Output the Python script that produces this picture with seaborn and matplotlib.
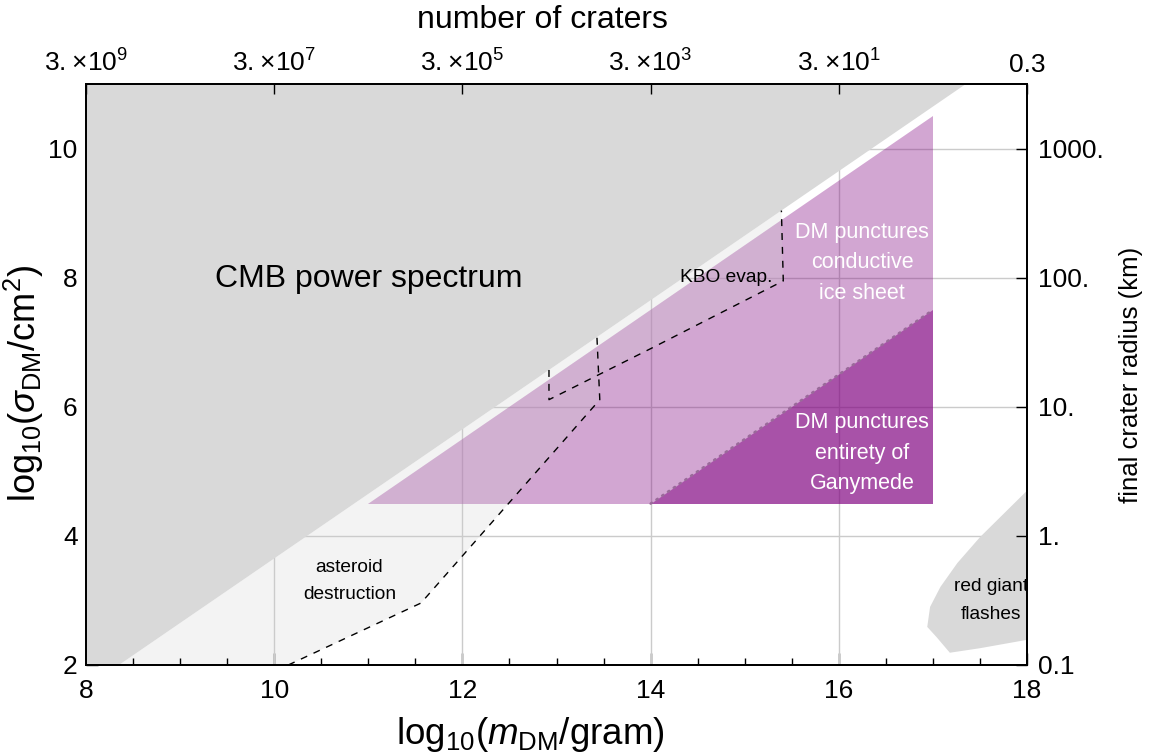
import matplotlib
matplotlib.use("Agg")
import matplotlib.pyplot as plt
import seaborn as sns
from matplotlib.patches import Polygon
from matplotlib.ticker import MultipleLocator

# axis ranges
M_LIM = (8, 18)
SIGMA_LIM = (2, 11)

# CMB power spectrum bound (edge of the excluded upper-left region)
cmb_edge_m = [8.35, 17.35]
cmb_edge_sigma = [2.0, 11.0]

# asteroid destruction bound (dashed)
ast_m = [10.15, 11.56, 13.46, 13.43]
ast_sigma = [2.0, 2.96, 6.11, 7.07]

# KBO evaporation bound (dashed)
kbo_m = [12.92, 12.92, 14.0, 15.41, 15.39]
kbo_sigma = [6.57, 6.11, 6.90, 7.95, 9.04]

# lower edge of the combined asteroid + KBO excluded area
excl_m = [10.15, 11.56, 13.46, 13.46, 14.0, 15.41, 15.39]
excl_sigma = [2.0, 2.96, 6.11, 6.51, 6.90, 7.95, 9.04]

# DM punctures conductive ice sheet
ice_m = [11, 17, 17]
ice_sigma = [4.5, 4.5, 10.5]

# DM punctures entirety of Ganymede
gan_m = [14, 17, 17]
gan_sigma = [4.5, 4.5, 7.5]

# red giant flashes
rg_m = [18.0, 17.50, 17.26, 17.08, 16.97, 16.94, 17.04, 17.18, 17.50, 18.0]
rg_sigma = [4.70, 3.98, 3.58, 3.21, 2.90, 2.59, 2.43, 2.19, 2.26, 2.39]

# secondary axes
crater_ticks = [8, 10, 12, 14, 16, 18]
crater_labels = [r"$3.\!\times\!10^{9}$", r"$3.\!\times\!10^{7}$", r"$3.\!\times\!10^{5}$",
                 r"$3.\!\times\!10^{3}$", r"$3.\!\times\!10^{1}$", "0.3"]
radius_ticks = [2, 4, 6, 8, 10]
radius_labels = ["0.1", "1.", "10.", "100.", "1000."]

grid_m = [10, 12, 14, 16]
grid_sigma = [4, 6, 8, 10]

PURPLE = (0.5, 0.0, 0.5)
DARK_GRAY = "#d9d9d9"
LIGHT_GRAY = "#f3f3f3"


def main():
    sns.set_theme(style="white")
    plt.rcParams["font.family"] = ["Liberation Sans", "DejaVu Sans"]
    plt.rcParams["mathtext.fontset"] = "custom"
    plt.rcParams["mathtext.rm"] = "Liberation Sans"
    plt.rcParams["mathtext.it"] = "Liberation Sans:italic"
    plt.rcParams["mathtext.bf"] = "Liberation Sans:bold"
    plt.rcParams["mathtext.sf"] = "Liberation Sans"
    for key in ("text.color", "axes.labelcolor", "xtick.color", "ytick.color"):
        plt.rcParams[key] = "black"

    fig = plt.figure(figsize=(11.53, 7.53), dpi=100)
    ax = fig.add_axes([86 / 1153, 1 - 665 / 753, 941 / 1153, 581 / 753])
    ax.set_xlim(*M_LIM)
    ax.set_ylim(*SIGMA_LIM)

    # asteroid + KBO excluded area (light gray, below grid)
    excl_pts = list(zip(excl_m, excl_sigma)) + [(cmb_edge_m[0], cmb_edge_sigma[0])]
    ax.add_patch(Polygon(excl_pts, closed=True, facecolor=LIGHT_GRAY,
                         edgecolor="none", zorder=0.3))

    for g in grid_m:
        ax.axvline(g, color="#cbcbcb", lw=1.0, zorder=1)
    for g in grid_sigma:
        ax.axhline(g, color="#cbcbcb", lw=1.0, zorder=1)

    # CMB region
    cmb_pts = [(M_LIM[0], SIGMA_LIM[0]), (cmb_edge_m[0], cmb_edge_sigma[0]),
               (cmb_edge_m[1], cmb_edge_sigma[1]), (M_LIM[0], SIGMA_LIM[1])]
    ax.add_patch(Polygon(cmb_pts, closed=True, facecolor=DARK_GRAY,
                         edgecolor="none", zorder=2))

    # red giant flashes
    ax.fill(rg_m, rg_sigma, color=DARK_GRAY, lw=0, zorder=2)

    # Ganymede constraints
    ice_patch = Polygon(list(zip(ice_m, ice_sigma)), closed=True,
                        facecolor=PURPLE, alpha=0.35, edgecolor="none", zorder=3)
    ax.add_patch(ice_patch)
    ax.add_patch(Polygon(list(zip(gan_m, gan_sigma)), closed=True,
                         facecolor=PURPLE, alpha=0.5, edgecolor="none", zorder=3.1))
    overlay = Polygon(excl_pts, closed=True, facecolor=(0.9, 0.9, 0.9),
                      alpha=0.25, edgecolor="none", zorder=3.2)
    ax.add_patch(overlay)
    overlay.set_clip_path(ice_patch)

    ax.plot(gan_m[0::2], gan_sigma[0::2], color="#9a6a9a", lw=1.8,
            linestyle=(0, (0.6, 2.2)), dash_capstyle="round", zorder=3.5)

    # dashed bounds
    sns.lineplot(x=ast_m, y=ast_sigma, sort=False, estimator=None, ax=ax,
                 color="black", lw=1.0, linestyle=(0, (5, 5)), zorder=4)
    sns.lineplot(x=kbo_m, y=kbo_sigma, sort=False, estimator=None, ax=ax,
                 color="black", lw=1.0, linestyle=(0, (5, 5)), zorder=4)

    # labels inside the plot
    ax.text(11.0, 7.98, "CMB power spectrum", fontsize=23, ha="center",
            va="center", zorder=5)
    ax.text(14.80, 8.0, "KBO evap.", fontsize=13.8, ha="center", va="center", zorder=5)
    ax.text(10.80, 3.30, "asteroid\ndestruction", fontsize=13.8, ha="center",
            va="center", linespacing=1.75, zorder=5)
    ax.text(16.25, 8.23, "DM punctures\nconductive\nice sheet", fontsize=15.5,
            color="white", ha="center", va="center", linespacing=1.58, zorder=5)
    ax.text(16.25, 5.28, "DM punctures\nentirety of\nGanymede", fontsize=15.5,
            color="white", ha="center", va="center", linespacing=1.58, zorder=5)
    ax.text(17.62, 3.0, "red giant\nflashes", fontsize=13.8, ha="center",
            va="center", linespacing=1.8, zorder=5, clip_on=True)

    # bottom / left axes
    ax.set_xticks(crater_ticks)
    ax.set_xticklabels([str(t) for t in crater_ticks])
    ax.set_yticks(radius_ticks)
    ax.set_yticklabels([str(t) for t in radius_ticks])
    ax.xaxis.set_minor_locator(MultipleLocator(0.5))
    ax.yaxis.set_minor_locator(MultipleLocator(0.5))
    ax.tick_params(which="both", direction="in", top=False, right=False,
                   bottom=True, left=True, color="black", width=1.0)
    ax.tick_params(which="major", length=8.5, labelsize=19)
    ax.tick_params(which="minor", length=5)
    ax.tick_params(axis="x", which="major", pad=10)
    ax.tick_params(axis="y", which="major", pad=6)
    ax.set_xlabel(r"log$_{10}$($m_{\rm DM}$/gram)", fontsize=26.5)
    ax.set_ylabel(r"log$_{10}$($\sigma_{\rm DM}$/cm$^2$)", fontsize=26)
    ax.xaxis.set_label_coords(0.472, -0.086)
    ax.yaxis.set_label_coords(-0.043, 0.484)

    for sp in ax.spines.values():
        sp.set_color("black")
        sp.set_linewidth(1.2)
        sp.set_zorder(6)

    # top axis: number of craters
    ax_top = ax.twiny()
    ax_top.set_xlim(*M_LIM)
    ax_top.set_xticks(crater_ticks)
    ax_top.set_xticklabels(crater_labels)
    ax_top.tick_params(axis="x", direction="in", length=7, width=1.0,
                       labelsize=19, pad=5, color="black")
    ax_top.set_xlabel("number of craters", fontsize=23)
    ax_top.xaxis.set_label_coords(0.485, 1.096)

    # right axis: final crater radius
    ax_right = ax.twinx()
    ax_right.set_ylim(*SIGMA_LIM)
    ax_right.set_yticks(radius_ticks)
    ax_right.set_yticklabels(radius_labels)
    ax_right.tick_params(axis="y", direction="in", length=8, width=1.0,
                         labelsize=19, pad=8, color="black")
    ax_right.set_ylabel("final crater radius (km)", fontsize=18.5, rotation=90)
    ax_right.yaxis.set_label_coords(1.098, 0.499)

    for a in (ax_top, ax_right):
        a.grid(False)
        for sp in a.spines.values():
            sp.set_color("black")
            sp.set_linewidth(1.2)

    fig.savefig("out.png", dpi=100)


if __name__ == "__main__":
    main()
